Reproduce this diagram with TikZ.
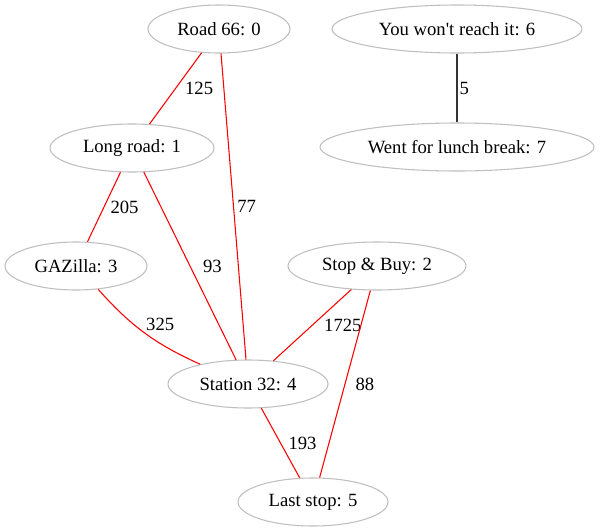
\documentclass[tikz,border=0pt]{standalone}
\usepackage{fontspec}
\setmainfont{Liberation Serif}[Ligatures=TeXOff]
\usetikzlibrary{shapes.geometric}

\tikzset{
  stop/.style={ellipse, draw=gray!50, line width=0.8pt, inner sep=0pt, minimum height=36pt, font=\fontsize{14}{16}\selectfont},
  road/.style={red, line width=0.8pt},
  lbl/.style={midway, anchor=west, inner sep=0pt, text=black, font=\fontsize{14}{16}\selectfont}
}

\begin{document}
\begin{tikzpicture}[x=0.75pt, y=-0.75pt]
\useasboundingbox (0,0) rectangle (600,532);
% stops
\node[stop, minimum width=106.5pt] (Road) at (219,29) {Road 66: 0};
\node[stop, minimum width=187.5pt] (Reach) at (457,29) {You won't reach it: 6};
\node[stop, minimum width=205.5pt] (Lunch) at (457,147) {Went for lunch break: 7};
\node[stop, minimum width=123pt] (Long) at (132,148) {Long road: 1};
\node[stop, minimum width=106.5pt] (GAZilla) at (76,266) {GAZilla: 3};
\node[stop, minimum width=133.5pt] (StopBuy) at (377,266) {Stop \& Buy: 2};
\node[stop, minimum width=120pt] (Station) at (248,384) {Station 32: 4};
\node[stop, minimum width=112.5pt] (Last) at (313,502) {Last stop: 5};
% roads
\draw[road] (Road) -- node[lbl, xshift=6.75pt] {125} (Long);
\draw[road] (Road) -- node[lbl, xshift=2.5pt] {77} (Station);
\draw[road] (Long) -- node[lbl, xshift=4.5pt] {205} (GAZilla);
\draw[road] (Long) -- node[lbl, xshift=9.4pt] {93} (Station);
\draw[road] (GAZilla) to[bend right=12] node[lbl, xshift=0.75pt, yshift=6.75pt] {325} (Station);
\draw[road] (StopBuy) -- node[lbl, xshift=8.5pt] {1725} (Station);
\draw[road] (StopBuy) -- node[lbl, xshift=7.5pt] {88} (Last);
\draw[road] (Station) -- node[lbl, xshift=5.6pt] {193} (Last);
\draw[black!80, line width=0.8pt] (Reach) -- node[lbl, xshift=1.5pt] {5} (Lunch);
\end{tikzpicture}
\end{document}
